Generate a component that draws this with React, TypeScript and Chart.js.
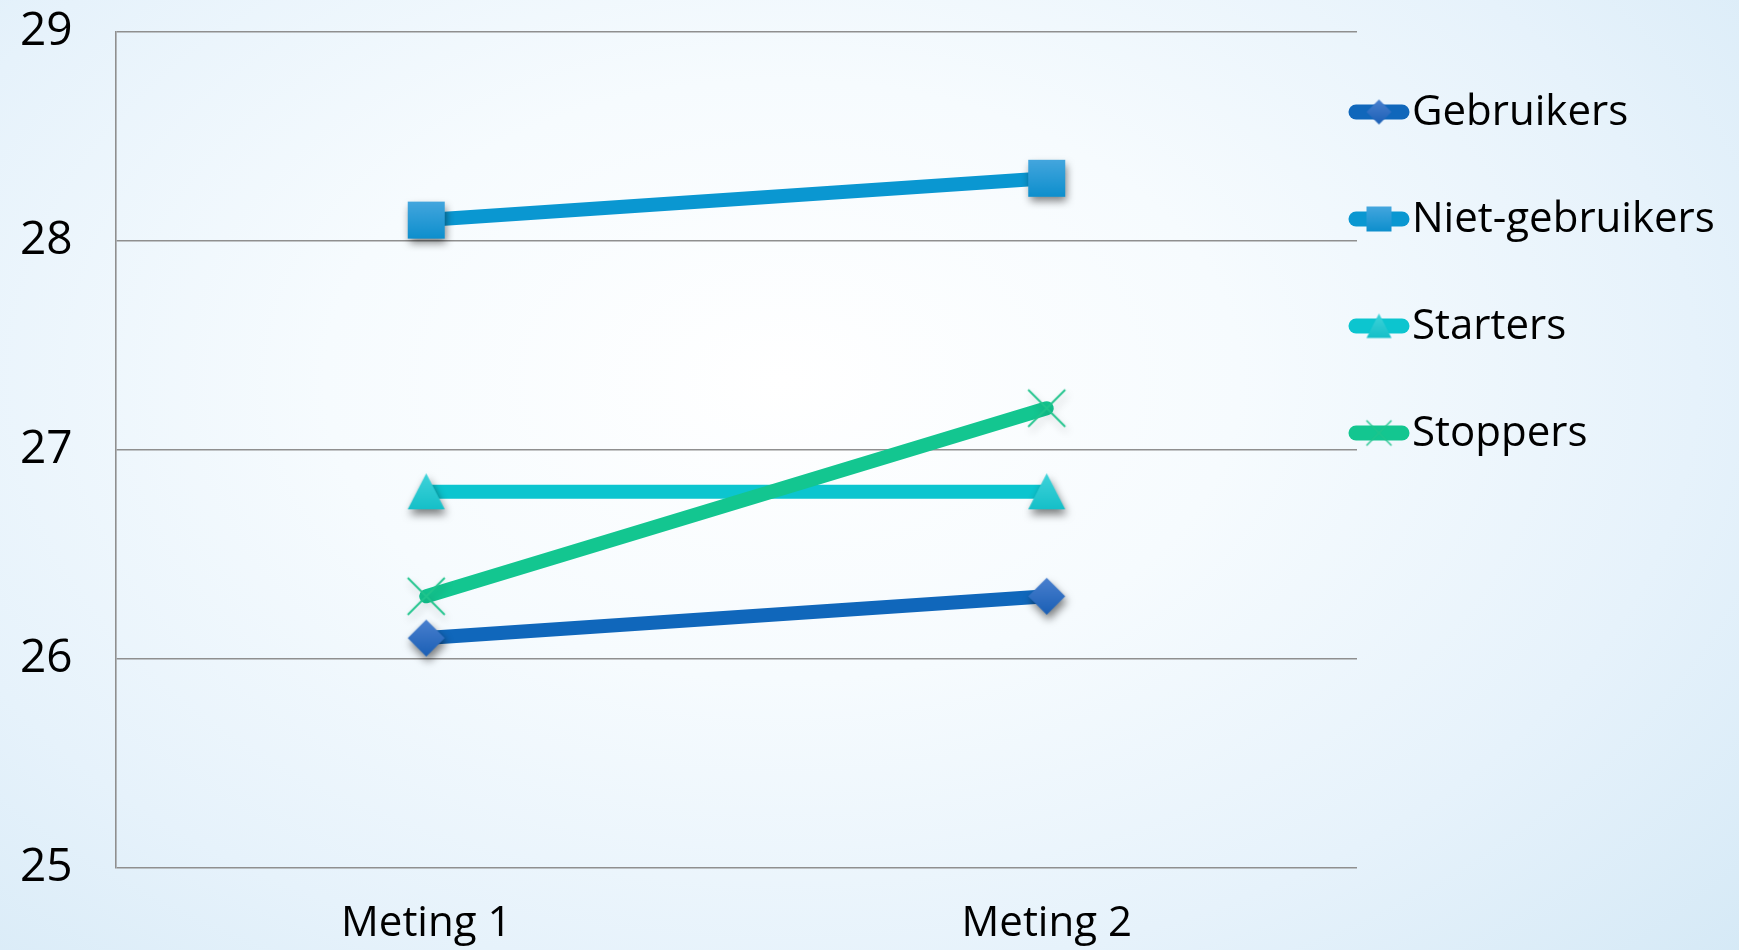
import React, { useEffect, useRef } from "react";
import { Chart, registerables } from "chart.js";

Chart.register(...registerables);

// ---- data ----
const categories = ["Meting 1", "Meting 2"];
const seriesNames = ["Gebruikers", "Niet-gebruikers", "Starters", "Stoppers"];
const gebruikers = [26.1, 26.3];
const nietGebruikers = [28.1, 28.3];
const starters = [26.8, 26.8];
const stoppers = [26.3, 27.2];
const yMin = 25;
const yMax = 29;
const yStep = 1;

const FONT = "'Open Sans', 'DejaVu Sans', sans-serif";

type MarkerKind = "diamond" | "square" | "triangle" | "cross";

const lineColors = ["#1067bb", "#0a97d1", "#0cc5cf", "#13c690"];
const markerLight = ["#4a80cf", "#44a6de", "#40d3da", "#2cc996"];
const markerDark = ["#1a5fb5", "#0d8fcd", "#14bfc8", "#20c48c"];
const markerKinds: MarkerKind[] = ["diamond", "square", "triangle", "cross"];

function makeMarker(kind: MarkerKind, size: number, light: string, dark: string, shadow: boolean): HTMLCanvasElement {
  const pad = Math.ceil(size * 0.45) + 6;
  const c = document.createElement("canvas");
  c.width = size + pad * 2;
  c.height = size + pad * 2;
  const ctx = c.getContext("2d")!;
  const cx = c.width / 2;
  const cy = c.height / 2;
  const h = size / 2;
  if (shadow) {
    ctx.shadowColor = kind === "cross" ? "rgba(0,0,0,0.25)" : "rgba(0,0,0,0.5)";
    ctx.shadowBlur = size * 0.22;
    ctx.shadowOffsetX = size * 0.05;
    ctx.shadowOffsetY = size * 0.14;
  }
  const g = ctx.createLinearGradient(0, cy - h, 0, cy + h);
  g.addColorStop(0, light);
  g.addColorStop(1, dark);
  ctx.fillStyle = g;
  ctx.beginPath();
  if (kind === "diamond") {
    ctx.moveTo(cx, cy - h);
    ctx.lineTo(cx + h, cy);
    ctx.lineTo(cx, cy + h);
    ctx.lineTo(cx - h, cy);
    ctx.closePath();
    ctx.fill();
  } else if (kind === "square") {
    ctx.rect(cx - h, cy - h, size, size);
    ctx.fill();
  } else if (kind === "triangle") {
    ctx.moveTo(cx, cy - h);
    ctx.lineTo(cx + h, cy + h * 0.95);
    ctx.lineTo(cx - h, cy + h * 0.95);
    ctx.closePath();
    ctx.fill();
  } else {
    ctx.strokeStyle = dark;
    ctx.lineWidth = Math.max(1.4, size * 0.05);
    ctx.moveTo(cx - h, cy - h);
    ctx.lineTo(cx + h, cy + h);
    ctx.moveTo(cx + h, cy - h);
    ctx.lineTo(cx - h, cy + h);
    ctx.stroke();
  }
  return c;
}

const legendPlugin = {
  id: "customLegend",
  afterDraw(chart: any) {
    const ctx = chart.ctx as CanvasRenderingContext2D;
    const x0 = 1349;
    const x1 = 1409;
    const top = 112;
    const gap = 107;
    chart.data.datasets.forEach((ds: any, i: number) => {
      const y = top + i * gap;
      ctx.save();
      ctx.strokeStyle = ds.borderColor;
      ctx.lineWidth = 15;
      ctx.lineCap = "round";
      ctx.beginPath();
      ctx.moveTo(x0 + 7, y);
      ctx.lineTo(x1 - 7, y);
      ctx.stroke();
      const m = ds._legendMarker as HTMLCanvasElement;
      ctx.drawImage(m, (x0 + x1) / 2 - m.width / 2, y - m.height / 2);
      ctx.fillStyle = "#000";
      ctx.font = `42px ${FONT}`;
      ctx.textBaseline = "middle";
      ctx.textAlign = "left";
      ctx.fillText(ds.label, 1412, y + 1);
      ctx.restore();
    });
  },
};

export default function App() {
  const ref = useRef<HTMLCanvasElement | null>(null);
  useEffect(() => {
    if (!ref.current) return;
    const seriesValues = [gebruikers, nietGebruikers, starters, stoppers];
    const datasets = seriesNames.map((name, i) => {
      const img = makeMarker(markerKinds[i], 37, markerLight[i], markerDark[i], true);
      const legImg = makeMarker(markerKinds[i], 25, markerLight[i], markerDark[i], false);
      return {
        label: name,
        data: seriesValues[i],
        borderColor: lineColors[i],
        backgroundColor: lineColors[i],
        borderWidth: 14,
        borderCapStyle: "round" as const,
        borderJoinStyle: "round" as const,
        pointStyle: img,
        pointRadius: 18,
        pointHoverRadius: 18,
        order: seriesNames.length - i,
        _legendMarker: legImg,
      } as any;
    });
    const chart = new Chart(ref.current, {
      type: "line",
      data: { labels: categories, datasets },
      plugins: [legendPlugin],
      options: {
        responsive: false,
        animation: false,
        events: [],
        layout: { padding: { left: 20, top: 31, right: 382, bottom: 0 } },
        plugins: { legend: { display: false }, tooltip: { enabled: false } },
        scales: {
          x: {
            offset: true,
            grid: { display: false, drawTicks: false },
            border: { display: false },
            ticks: { color: "#000", font: { family: FONT, size: 42 }, padding: 31 },
            afterFit: (scale: any) => {
              scale.height = 82;
            },
          },
          y: {
            min: yMin,
            max: yMax,
            ticks: {
              stepSize: yStep,
              color: "#000",
              font: { family: FONT, size: 46 },
              crossAlign: "far",
              padding: 0,
            },
            grid: { color: "#8f8f8f", lineWidth: 1.6, drawTicks: false },
            border: { display: true, color: "#8f8f8f", width: 1.6 },
            afterFit: (scale: any) => {
              scale.width = 96;
            },
          },
        },
      },
    });
    return () => chart.destroy();
  }, []);
  return (
    <div
      style={{
        position: "fixed",
        left: 0,
        top: 0,
        width: 1739,
        height: 950,
        background:
          "radial-gradient(ellipse 75% 90% at 45% 40%, #ffffff 0%, #f6fbfe 35%, #e6f2fb 70%, #d5e9f6 100%)",
      }}
    >
      <canvas ref={ref} width={1739} height={950} style={{ display: "block" }} />
    </div>
  );
}
